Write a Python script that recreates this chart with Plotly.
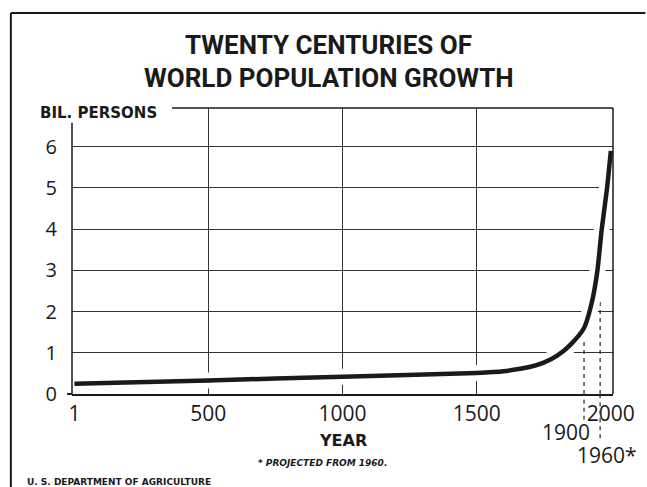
import plotly.graph_objects as go

# world population, billions
years = [1, 500, 1000, 1500, 1600, 1650, 1700, 1750, 1800, 1850, 1900, 1930, 1950, 1966, 1985, 2000]
pop = [0.25, 0.33, 0.42, 0.51, 0.55, 0.60, 0.66, 0.76, 0.93, 1.2, 1.6, 2.25, 3.0, 4.0, 4.95, 5.9]

x_ticks = [1, 500, 1000, 1500, 2000]
x_grid = [500, 1000, 1500]
y_ticks = [0, 1, 2, 3, 4, 5, 6]

mark_years = [1900, 1960]
mark_tops = [1.6, 3.5]
mark_bottoms = [-0.09, -0.155]  # paper units below the axis

ink = "#1a1a1a"
num_font = "Open Sans, Roboto, sans-serif"
title_font = dict(family="Roboto, Liberation Sans, sans-serif", size=26, color=ink)

fig = go.Figure()
# white halo so the grid breaks around the curve
fig.add_trace(go.Scatter(x=years, y=pop, mode="lines",
                         line=dict(color="white", width=16, shape="spline", smoothing=0.6),
                         hoverinfo="skip", showlegend=False))
fig.add_trace(go.Scatter(x=years, y=pop, mode="lines",
                         line=dict(color=ink, width=4.5, shape="spline", smoothing=0.6),
                         showlegend=False))

shapes = []
for yr, top, bot in zip(mark_years, mark_tops, mark_bottoms):
    shapes.append(dict(type="line", xref="x", yref="y", x0=yr, x1=yr, y0=0, y1=top,
                       layer="between", line=dict(color="#333", width=1.3, dash="4px,4px")))
    shapes.append(dict(type="line", xref="x", yref="paper", x0=yr, x1=yr, y0=bot, y1=0,
                       line=dict(color="#333", width=1.3, dash="4px,4px")))

# axis box pieces
shapes += [
    dict(type="line", xref="paper", yref="paper", x0=0, x1=0, y0=0, y1=0.948,
         line=dict(color=ink, width=1.5)),
    dict(type="line", xref="paper", yref="paper", x0=-0.009, x1=0, y0=0, y1=0,
         line=dict(color=ink, width=2)),
    dict(type="line", xref="paper", yref="paper", x0=0.185, x1=1, y0=1, y1=1,
         line=dict(color=ink, width=1.5)),
    dict(type="line", xref="paper", yref="paper", x0=1, x1=1, y0=0, y1=1,
         line=dict(color=ink, width=1.5)),
    # outer frame
    dict(type="line", xref="paper", yref="paper", x0=-0.113, x1=-0.113, y0=-0.33, y1=1.332,
         line=dict(color=ink, width=2)),
    dict(type="line", xref="paper", yref="paper", x0=-0.113, x1=1.06, y0=1.332, y1=1.332,
         line=dict(color=ink, width=2)),
]


def note(text, x, y, font, xref="paper", xanchor="center", xshift=0):
    return dict(text=text, x=x, y=y, xref=xref, yref="paper", xanchor=xanchor, yanchor="middle",
                xshift=xshift, showarrow=False, font=font)


annotations = [
    note("<b>TWENTY CENTURIES OF</b>", 0.475, 1.220, title_font),
    note("<b>WORLD POPULATION GROWTH</b>", 0.475, 1.105, title_font),
    note("<b>BIL. PERSONS</b>", -0.062, 0.983, dict(family="DejaVu Sans", size=15, color=ink),
         xanchor="left"),
    note("<b>YEAR</b>", 1000, -0.161, dict(family="DejaVu Sans", size=16, color=ink), xref="x"),
    note("<b><i>* PROJECTED FROM 1960.</i></b>", 925, -0.241,
         dict(family="DejaVu Sans", size=9, color=ink), xref="x"),
    note("<b>U. S. DEPARTMENT OF AGRICULTURE</b>", -0.086, -0.308,
         dict(family="DejaVu Sans", size=9, color=ink), xanchor="left"),
    note("1900", 1900, -0.133, dict(family=num_font, size=21, color=ink), xref="x",
         xanchor="right", xshift=8),
    note("1960*", 1960, -0.213, dict(family=num_font, size=21, color=ink), xref="x", xshift=7),
]

fig.update_layout(
    width=647, height=487,
    margin=dict(l=72, r=28, t=108, b=93),
    paper_bgcolor="white", plot_bgcolor="white",
    shapes=shapes, annotations=annotations,
    xaxis=dict(range=[-8, 2008], tickvals=x_ticks, ticktext=[str(v) for v in x_ticks],
               showgrid=False, zeroline=False, showline=True, linecolor=ink, linewidth=2,
               ticks="", ticklabelstandoff=0,
               tickfont=dict(family=num_font, size=21, color=ink),
               minor=dict(tickvals=x_grid, showgrid=True, gridcolor="#333", gridwidth=1, ticks="")),
    yaxis=dict(range=[0, 6.94], tickvals=y_ticks, showgrid=True, gridcolor="#333", gridwidth=1,
               zeroline=False, showline=False, ticks="", ticklabelstandoff=14,
               tickfont=dict(family=num_font, size=20, color=ink)),
)

# drop the default 8px page margin so the figure fills the window exactly
fig.write_html("out.html", config={"displayModeBar": False},
               post_script="document.body.style.margin='0';")
